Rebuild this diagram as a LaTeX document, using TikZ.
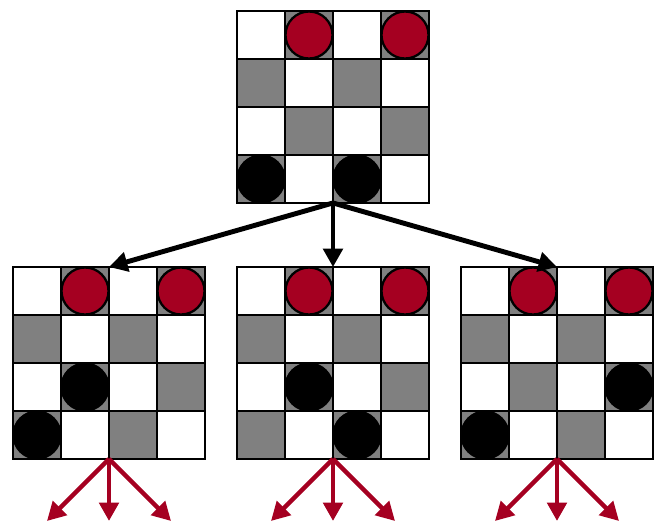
\documentclass[tikz,border=0pt]{standalone}
\usetikzlibrary{arrows.meta,calc}
\definecolor{piecered}{HTML}{A50021}
\definecolor{sqgray}{HTML}{808080}
\tikzset{
  >={Triangle[length=10.5pt,width=11pt]},
  boardbox/.style={minimum size=3.84cm, inner sep=0pt, outer sep=0pt},
  cellline/.style={draw=black, line width=1.3pt},
  move/.style={->, draw=black, line width=2.8pt},
  reply/.style={->, draw=piecered, line width=2.5pt},
  % a 4x4 board from its top-left corner: #1 lists the black pieces as row/col
  pics/board/.style={code={
    \foreach \r in {0,...,3}{\foreach \c in {0,...,3}{
      \pgfmathtruncatemacro\odd{mod(\r+\c,2)}
      \ifnum\odd=1 \def\sq{sqgray}\else\def\sq{white}\fi
      \filldraw[fill=\sq, cellline] (48*\c,48*\r) rectangle ++(48,48);
    }}
    \foreach \c in {1,3}{\filldraw[fill=piecered, cellline] (48*\c+24,24) circle (23.5);}
    \foreach \r/\c in {#1}{\filldraw[fill=black, cellline] (48*\c+24,48*\r+24) circle (23.5);}
  }},
}
\begin{document}
\begin{tikzpicture}[x=0.02cm, y=-0.02cm]
\useasboundingbox (0,0) rectangle (654,523);

% ---- current position ----
\node[boardbox] (top) at (333,107) {};
\pic at (top.north west) {board={3/0,3/2}};

% ---- the three black moves ----
\node[boardbox] (left)  at (109,363) {};
\node[boardbox] (mid)   at (333,363) {};
\node[boardbox] (right) at (557,363) {};
\pic at (left.north west)  {board={2/1,3/0}};
\pic at (mid.north west)   {board={2/1,3/2}};
\pic at (right.north west) {board={2/3,3/0}};

\foreach \b in {left,mid,right}{
  \draw[move] (top.south) -- (\b.north);
}

% ---- red replies below each board ----
\foreach \b in {left,mid,right}{
  \coordinate (\b-a) at ($(\b.south)+(-62,62)$);
  \coordinate (\b-b) at ($(\b.south)+(0,62)$);
  \coordinate (\b-c) at ($(\b.south)+(62,62)$);
  \draw[reply] (\b.south) -- (\b-a);
  \draw[reply] (\b.south) -- (\b-b);
  \draw[reply] (\b.south) -- (\b-c);
}
\end{tikzpicture}
\end{document}
